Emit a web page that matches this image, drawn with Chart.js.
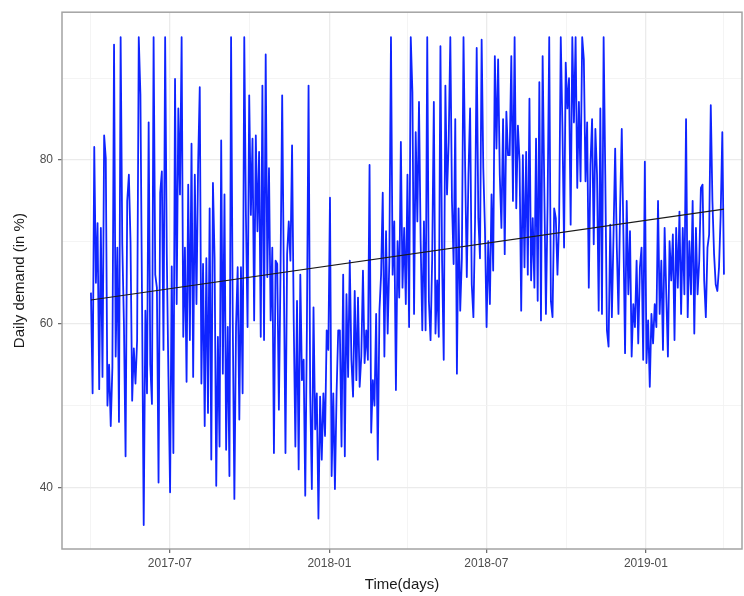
<!DOCTYPE html>
<html>
<head>
<meta charset="utf-8">
<script src="https://cdn.jsdelivr.net/npm/chart.js@4.4.1/dist/chart.umd.min.js"></script>
<style>
  html, body { margin: 0; padding: 0; background: #fff; }
  canvas { display: block; }
</style>
</head>
<body>
<canvas id="demandChart" width="744" height="596"></canvas>
<script>
// daily demand (%), 2017-04-01 .. 2019-04-01, roughly every 2 days
const spanDays = 730;
const demand = [
  // Apr - Jun 2017
  63.8, 51.5, 81.6, 65, 72.3, 52, 71.7, 53.5, 83, 80.2, 50, 55, 47.5, 54.7, 94.1, 56, 69.3, 48, 95, 69.7,
  60, 43.8, 75, 78.2, 70, 50.6, 57, 52.7, 58, 95, 88, 62.4, 35.4, 61.6, 51.5, 84.6, 55, 50.2, 95, 66,
  64.4, 40.6, 76, 78.6, 56.8, 95,
  // Jul - Sep 2017
  68.5, 53.5, 39.4, 67, 44.2, 89.9, 62.4, 86.3, 75.8, 95, 58.4, 69.3, 52.9, 77, 58, 82, 53.5, 78.2, 62.4, 79.4,
  88.9, 52.7, 67.3, 47.5, 68, 49.1, 74.1, 43.4, 77.2, 68, 40.2, 58.4, 45, 82.4, 53.9, 75.8, 44.6, 59.6, 41.4, 95,
  60.8, 38.6, 59.6, 66.9, 48.3, 66.9, 51.5, 95, 73.3, 59.6, 87.9, 73.3,
  // Oct - Dec 2017
  82.6, 60.4, 83, 71.3, 81, 58.4, 89.1, 58, 92.9, 65.7, 79, 60.4, 69.3, 44.2, 67.7, 67.3, 49.5, 66.5, 87.9, 65.7,
  44.2, 68.5, 72.5, 67.7, 81.8, 60.4, 45, 62.8, 42.2, 66, 53.1, 55.6, 39, 59.6, 89.1, 51.5, 39.8, 62, 47.1, 51.5,
  36.2, 51.1, 43.4, 51.5, 46.3, 59.2, 56.8, 75.4, 41.4, 51.5, 39.8, 51.5, 59.2,
  // Jan - Mar 2018
  59.2, 45, 66, 43.8, 63.6, 53.5, 67.7, 55.6, 51.1, 64, 53.1, 63.2, 52.3, 56, 66.5, 55.2, 59.2, 55.6, 79.4, 46.7,
  53.1, 50, 61.2, 43.4, 61.6, 66, 76, 56, 71.3, 58.8, 67.7, 95, 66, 72.5, 51.9, 70.1, 63.2, 82.2, 64.4, 71.7,
  62.4, 78.2, 59.6, 95, 88.3, 61.2, 83.4, 72.5, 87.1, 70.1, 59.2, 72.5,
  // Apr - Jun 2018
  59.2, 95, 62.8, 58, 68, 87.1, 58.8, 65.3, 58.4, 93.9, 67.7, 55.6, 89.1, 75.8, 82.2, 95, 75, 67.3, 85, 53.9,
  74.1, 61.6, 68, 95, 79, 65.7, 78.2, 86.3, 64.8, 60.8, 72.5, 93.7, 72.9, 68, 94.7, 79, 71.7, 59.6, 70.1, 62.4,
  75.8, 66.5, 92.7, 81.4, 92.3, 78.2, 71.7, 85, 68.5, 85.9, 80.6,
  // Jul - Sep 2018
  80.6, 92.7, 75, 95, 74.1, 84.2, 79.8, 61.6, 80.6, 66.9, 81, 66, 87.5, 65.3, 72.9, 64.4, 82.6, 62.8, 89.5, 60.4,
  92.7, 76.6, 61.2, 74.5, 95, 62.8, 60.8, 74.1, 72.9, 66, 72.5, 95, 84.2, 69.3, 91.9, 86.3, 90, 72.1, 95, 84.6,
  95, 76.6, 87.1, 77.4, 95, 92.3, 77.4, 84.6, 64.4, 79.4, 85,
  // Oct - Dec 2018
  69.7, 83.8, 78.2, 61.6, 86.3, 61.2, 95, 78.2, 59.2, 57.2, 72.1, 60.8, 70.9, 81.4, 69.3, 61.2, 74.1, 83.8, 70.9, 56.4,
  75, 63.6, 71.3, 56, 62.4, 59.6, 67.7, 57.6, 66.9, 69.3, 55.6, 79.8, 55.2, 60.4, 52.3, 61.2, 57.6, 62.4, 59.6, 75,
  61.2, 67.7, 56.8, 71.7, 63.6, 56, 70.1, 65.3, 70.9, 58, 71.7, 64.4,
  // Jan - Mar 2019
  73.7, 61.2, 71.7, 63.6, 85, 60.8, 70.1, 63.6, 75, 58.8, 71.7, 63.6, 67.7, 76.6, 77, 65.3, 60.8, 69.3, 70.9, 86.7,
  75, 68.5, 64.8, 64, 66.9, 73.3, 83.4, 66
];

// linear trend (lm fit), start and end of the series
const trendDays = [0, 730];
const trendValues = [62.9, 74.0];

// day offsets from 2017-04-01
const xTickDays = [0, 91, 183, 275, 365, 456, 548, 640, 730];
const xTickLabels = ['', '2017-07', '', '2018-01', '', '2018-07', '', '2019-01', ''];
const yTickValues = [40, 50, 60, 70, 80, 90];
const yTickLabels = ['40', '', '60', '', '80', ''];

const demandPoints = demand.map((v, i) => ({ x: i * spanDays / (demand.length - 1), y: v }));
const trendPoints = trendDays.map((d, i) => ({ x: d, y: trendValues[i] }));

const gridMajor = '#ebebeb';
const gridMinor = '#f3f3f3';
const tickText = '#4d4d4d';
const fontFamily = "'Liberation Sans', Arial, sans-serif";

const panelBorder = {
  id: 'panelBorder',
  afterDraw(chart) {
    const { ctx, chartArea: a } = chart;
    ctx.save();
    ctx.strokeStyle = '#a3a3a3';
    ctx.lineWidth = 1.5;
    ctx.strokeRect(a.left, a.top, a.right - a.left, a.bottom - a.top);
    ctx.restore();
  }
};

new Chart(document.getElementById('demandChart').getContext('2d'), {
  type: 'line',
  data: {
    datasets: [
      {
        data: demandPoints,
        borderColor: '#0f24ff',
        borderWidth: 1.8,
        borderJoinStyle: 'round',
        pointRadius: 0,
        tension: 0,
        order: 2
      },
      {
        data: trendPoints,
        borderColor: '#1a1a1a',
        borderWidth: 1.1,
        pointRadius: 0,
        order: 1
      }
    ]
  },
  options: {
    responsive: false,
    animation: false,
    events: [],
    layout: { padding: { left: 0, right: 2, top: 8, bottom: 0 } },
    plugins: { legend: { display: false }, tooltip: { enabled: false } },
    scales: {
      x: {
        type: 'linear',
        min: -33.4,
        max: 750.8,
        afterBuildTicks: (scale) => { scale.ticks = xTickDays.map(v => ({ value: v })); },
        afterFit: (scale) => { scale.height = 47; },
        ticks: {
          autoSkip: false,
          maxRotation: 0,
          padding: 3,
          color: tickText,
          font: { family: fontFamily, size: 12 },
          callback: (v, i) => xTickLabels[i]
        },
        grid: {
          color: (c) => xTickLabels[c.index] ? gridMajor : gridMinor,
          lineWidth: (c) => xTickLabels[c.index] ? 1.3 : 0.9,
          tickColor: (c) => xTickLabels[c.index] ? '#666' : 'rgba(0,0,0,0)',
          tickLength: 4,
          tickWidth: 1.2
        },
        border: { display: false },
        title: {
          display: true,
          text: 'Time(days)',
          color: '#1a1a1a',
          font: { family: fontFamily, size: 15 },
          padding: { top: 0, bottom: 2 }
        }
      },
      y: {
        min: 32.48,
        max: 98.06,
        afterBuildTicks: (scale) => { scale.ticks = yTickValues.map(v => ({ value: v })); },
        afterFit: (scale) => { scale.width = 62; },
        ticks: {
          autoSkip: false,
          padding: 5,
          color: tickText,
          font: { family: fontFamily, size: 12 },
          callback: (v, i) => yTickLabels[i]
        },
        grid: {
          color: (c) => yTickLabels[c.index] ? gridMajor : gridMinor,
          lineWidth: (c) => yTickLabels[c.index] ? 1.3 : 0.9,
          tickColor: (c) => yTickLabels[c.index] ? '#666' : 'rgba(0,0,0,0)',
          tickLength: 4,
          tickWidth: 1.2
        },
        border: { display: false },
        title: {
          display: true,
          text: 'Daily demand (in %)',
          color: '#1a1a1a',
          font: { family: fontFamily, size: 15 },
          padding: { top: 11, bottom: 0 }
        }
      }
    }
  },
  plugins: [panelBorder]
});
</script>
</body>
</html>
